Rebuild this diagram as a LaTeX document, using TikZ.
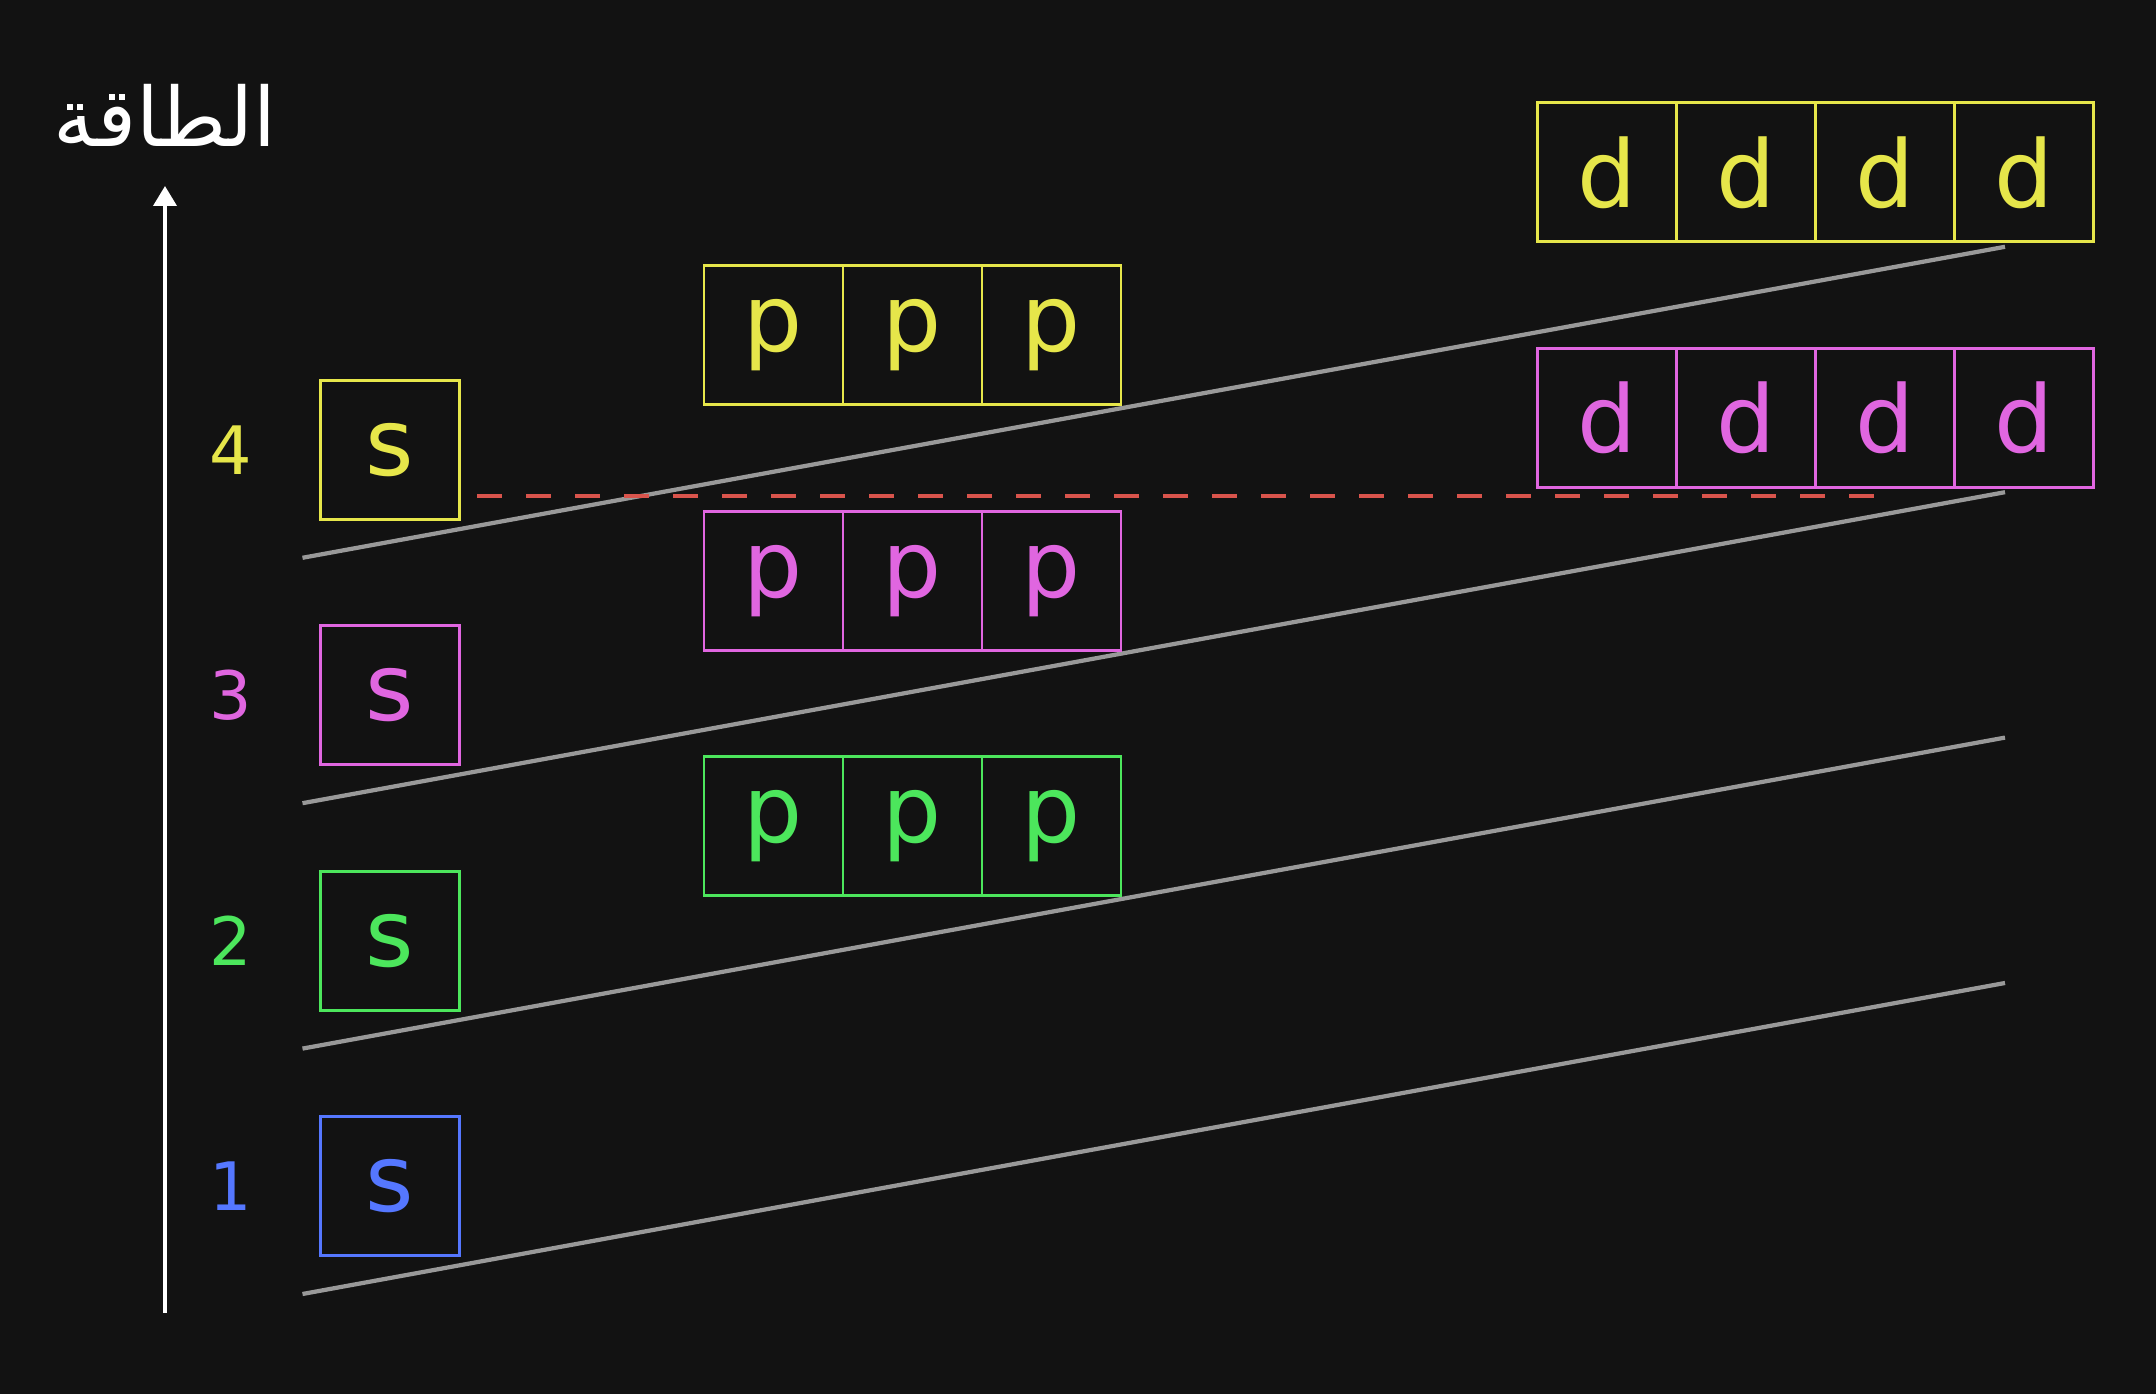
\documentclass[tikz,border=0pt]{standalone}
\usepackage{fontspec}
\setmainfont{DejaVu Sans}
\newfontfamily\arabicfont[Script=Arabic]{DejaVu Sans}
\TeXXeTstate=1
\usetikzlibrary{arrows.meta}

\definecolor{bgcol}{HTML}{121212}
\definecolor{sblue}{HTML}{5577FF}
\definecolor{sgreen}{HTML}{4CE65C}
\definecolor{smagenta}{HTML}{E066E0}
\definecolor{syellow}{HTML}{E6E64A}
\definecolor{lvlgray}{HTML}{999999}
\definecolor{dashred}{HTML}{D9544C}

\begin{document}
\begin{tikzpicture}[x=1cm, y=1cm,
    orb/.style={draw=#1, text=#1, line width=0.8pt, minimum size=1.39cm, inner sep=0pt, font=\fontsize{26.5}{30}\selectfont},
    lvl/.style={text=#1, font=\fontsize{19}{22}\selectfont},
    levelline/.style={lvlgray, line width=1.2pt}]

        \fill[bgcol] (0,0) rectangle (21.56,13.94);
        \useasboundingbox (0,0) rectangle (21.56,13.94);

        \newcommand\ShellNum{4}

        % Define shell properties

        \newcommand{\shell}[3]{
            \expandafter\def\csname shell#1Y\endcsname{#2}
            \expandafter\def\csname shell#1COLOR\endcsname{#3}
        }

        \shell{1}{2.08}{"sblue"}
        \shell{2}{4.534}{"sgreen"}
        \shell{3}{6.988}{"smagenta"}
        \shell{4}{9.442}{"syellow"}

        % Level lines, s boxes
        \foreach \n in {1,...,\ShellNum}{
            \pgfmathsetmacro{\y}{\csname shell\n Y\endcsname}
            \pgfmathsetmacro{\col}{\csname shell\n COLOR\endcsname}

            \coordinate (start\n) at (3.025,\y-1.08);
            \coordinate (end\n) at (20.05,\y+2.03);
            \draw[levelline] (start\n) -- (end\n);

            \node[lvl=\col] (num\n) at (2.31,\y) {\n};
            \node[orb=\col] (s\n) at (3.90,\y) {s};
        }

        % p boxes
        \foreach \n in {2,3,4}{
            \pgfmathsetmacro{\y}{\csname shell\n Y\endcsname}
            \pgfmathsetmacro{\col}{\csname shell\n COLOR\endcsname}
            \foreach \k in {1,2,3}
                \node[orb=\col] (p\n-\k) at ({7.735+1.39*(\k-1)},{\y+1.145}) {p};
        }

        % d boxes
        \foreach \n in {3,4}{
            \pgfmathsetmacro{\y}{\csname shell\n Y\endcsname}
            \pgfmathsetmacro{\col}{\csname shell\n COLOR\endcsname}
            \foreach \k in {1,...,4}
                \node[orb=\col] (d\n-\k) at ({16.07+1.39*(\k-1)},{\y+2.775}) {d};
        }

        % 3d above 4s
        \coordinate (dashL) at (4.77,8.98);
        \coordinate (dashR) at (18.77,8.98);
        \draw[dashred, line width=1.1pt, dash pattern=on 0.25cm off 0.24cm] (dashL) -- (dashR);

        % Axis
        \coordinate (axisbot) at (1.65,0.81);
        \coordinate (axistop) at (1.65,12.08);
        \draw[white, line width=1.1pt, -{Triangle[width=0.23cm, length=0.2cm]}] (axisbot) -- (axistop);
        \node[white, anchor=base, font=\arabicfont\fontsize{23.3}{28}\selectfont] (energy) at (1.65,12.47) {\beginR الطاقة\endR};

\end{tikzpicture}
\end{document}
